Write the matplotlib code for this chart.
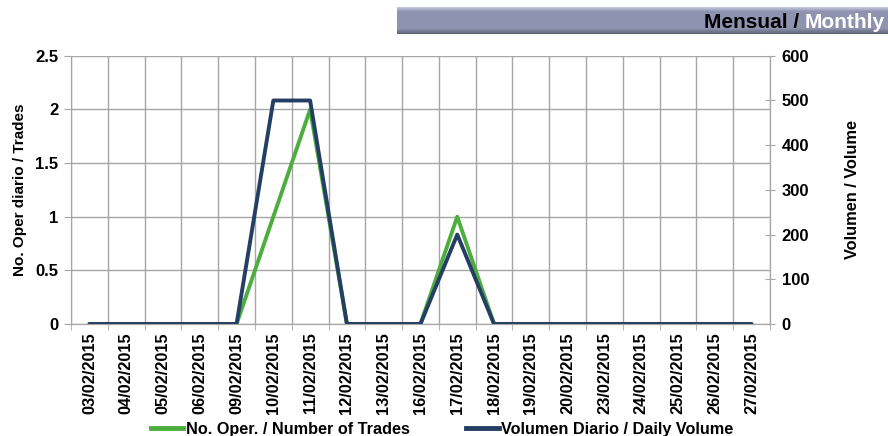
import numpy as np
import matplotlib; matplotlib.use("Agg")
import matplotlib.pyplot as plt
from matplotlib.lines import Line2D

plt.rcParams["font.family"] = ["Liberation Sans", "DejaVu Sans"]
plt.rcParams["font.weight"] = "bold"

dates = ["03/02/2015", "04/02/2015", "05/02/2015", "06/02/2015", "09/02/2015",
         "10/02/2015", "11/02/2015", "12/02/2015", "13/02/2015", "16/02/2015",
         "17/02/2015", "18/02/2015", "19/02/2015", "20/02/2015", "23/02/2015",
         "24/02/2015", "25/02/2015", "26/02/2015", "27/02/2015"]
trades = [0, 0, 0, 0, 0, 1, 2, 0, 0, 0, 1, 0, 0, 0, 0, 0, 0, 0, 0]
volume = [0, 0, 0, 0, 0, 500, 500, 0, 0, 0, 200, 0, 0, 0, 0, 0, 0, 0, 0]

GREEN = "#4DAE3F"
BLUE = "#243F63"
GRID = "#A6A6A6"

fig = plt.figure(figsize=(8.88, 4.36), dpi=100)
ax = fig.add_axes([0.080, 0.257, 0.787, 0.615])
ax2 = ax.twinx()

x = np.arange(len(dates))
ax.plot(x, trades, color=GREEN, lw=2.8, solid_joinstyle="round", solid_capstyle="round")
ax2.plot(x, volume, color=BLUE, lw=2.8, solid_joinstyle="round", solid_capstyle="round")

ax.set_xlim(-0.5, len(dates) - 0.5)
ax.set_ylim(0, 2.5)
ax2.set_ylim(0, 600)
ax.set_yticks(np.arange(0, 2.51, 0.5))
ax.set_yticklabels(["0", "0.5", "1", "1.5", "2", "2.5"])
ax2.set_yticks(np.arange(0, 601, 100))

ax.set_xticks(x)
ax.set_xticklabels(dates, rotation=90, fontsize=11.8, fontweight="bold")
ax.tick_params(axis="x", which="major", length=0, pad=6)
ax.set_xticks(np.arange(-0.5, len(dates)), minor=True)
ax.tick_params(axis="x", which="minor", length=4, color=GRID, direction="out")
ax.grid(which="minor", axis="x", color=GRID, lw=1)
ax.grid(which="major", axis="y", color=GRID, lw=1)
ax.set_axisbelow(True)

ax.tick_params(axis="y", labelsize=12, length=5, color=GRID, pad=4)
ax2.tick_params(axis="y", labelsize=12, length=7, color=GRID, pad=5, direction="inout")
for a in (ax, ax2):
    for s in a.spines.values():
        s.set_color(GRID)
    a.spines["top"].set_visible(False)

ax.set_ylabel("No. Oper diario / Trades", fontsize=11, fontweight="bold", labelpad=6)
ax2.set_ylabel("Volumen / Volume", fontsize=11.8, fontweight="bold", labelpad=26)

# title bar with bevelled gradient
bar = fig.add_axes([397 / 888, 1 - 34 / 436, 491 / 888, 27 / 436])
g = np.linspace(0, 1, 27)
top = np.array([0.76, 0.78, 0.86])
body = np.array([0.56, 0.58, 0.69])
bot = np.array([0.38, 0.40, 0.48])
cols = np.empty((27, 1, 3))
for i, v in enumerate(g):
    if v < 0.15:
        c = top + (body - top) * (v / 0.15)
    elif v < 0.8:
        c = body
    else:
        c = body + (bot - body) * ((v - 0.8) / 0.2)
    cols[i, 0] = c
bar.imshow(cols, aspect="auto", extent=[0, 1, 0, 1], origin="upper")
bar.set_xlim(0, 1)
bar.set_ylim(0, 1)
bar.axis("off")
t = bar.text(0.993, 0.42, "Monthly", color="white", fontsize=15,
             fontweight="bold", ha="right", va="center")
bar.annotate("Mensual / ", xy=(0, 0.5), xycoords=t, ha="right", va="center",
             color="black", fontsize=15, fontweight="bold")

handles = [Line2D([], [], color=GREEN, lw=3.5), Line2D([], [], color=BLUE, lw=3.5)]
fig.legend(handles, ["No. Oper. / Number of Trades", "Volumen Diario / Daily Volume"],
           loc="lower center", bbox_to_anchor=(0.498, -0.035), ncol=2, frameon=False,
           handlelength=2.0, handletextpad=0.15, columnspacing=3.5,
           prop={"weight": "bold", "size": 11.7})

fig.savefig("out.png", dpi=100)
